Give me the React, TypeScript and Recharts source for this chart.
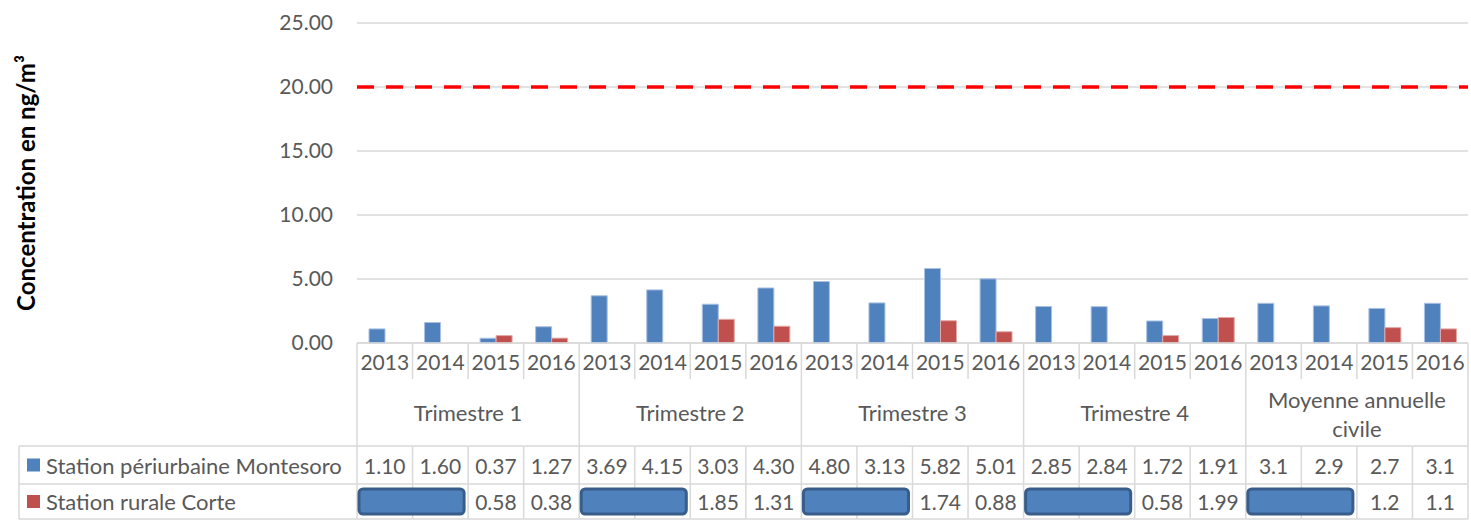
import React from 'react';
import { BarChart, Bar, XAxis, YAxis, CartesianGrid, ReferenceLine } from 'recharts';

// categories
const groups = ['Trimestre 1', 'Trimestre 2', 'Trimestre 3', 'Trimestre 4', 'Moyenne annuelle civile'];
const years = ['2013', '2014', '2015', '2016'];
const decimals = [2, 2, 2, 2, 1];

// series values (null = pas de mesure)
const montesoro = [1.10, 1.60, 0.37, 1.27, 3.69, 4.15, 3.03, 4.30, 4.80, 3.13, 5.82, 5.01, 2.85, 2.84, 1.72, 1.91, 3.1, 2.9, 2.7, 3.1];
const corte = [null, null, 0.58, 0.38, null, null, 1.85, 1.31, null, null, 1.74, 0.88, null, null, 0.58, 1.99, null, null, 1.2, 1.1];

const seriesNames = ['Station périurbaine Montesoro', 'Station rurale Corte'];
const yTicks = [0, 5, 10, 15, 20, 25];
const limitValue = 20;

const data = montesoro.map((v, i) => ({
  key: `${groups[Math.floor(i / 4)]}-${years[i % 4]}`,
  year: years[i % 4],
  group: Math.floor(i / 4),
  montesoro: v,
  corte: corte[i],
}));

const W = 1471;
const H = 520;
const margin = { top: 23, right: 3, left: 0, bottom: 0 };
const Y_W = 357;
const X_H = 177;
const BLUE = '#4F81BD';
const RED = '#C0504D';
const GRID = '#D9D9D9';
const TXT = '#595959';
const FONT = 'Lato, "Open Sans", sans-serif';
const FS_NUM = 21;
const FS_TXT = 22;

const band = (W - margin.left - margin.right - Y_W) / data.length;

function fmt(v: number | null, g: number) {
  return v == null ? '' : v.toFixed(decimals[g]);
}

function TableTick(props: any) {
  const { x, y, payload } = props;
  const i: number = payload.index;
  const d = data[i];
  const L = x - band / 2;
  const R = x + band / 2;
  const T = y;
  const r1 = T + 36;
  const r2 = T + 103;
  const r3 = T + 141;
  const B = T + 176;
  const lastInGroup = i % 4 === 3 || i === data.length - 1;
  const ln = { stroke: GRID, strokeWidth: 1.5 };
  const txt = { fill: TXT, fontSize: FS_NUM, fontFamily: FONT, textAnchor: 'middle' as const, dominantBaseline: 'central' as const };
  const groupLabel = groups[d.group];
  const twoLines = groupLabel.startsWith('Moyenne');

  return (
    <g>
      {i === 0 && (
        <g>
          <line x1={L} y1={T} x2={L} y2={B} {...ln} />
          <line x1={19} y1={r2} x2={L} y2={r2} {...ln} />
          <line x1={19} y1={r3} x2={L} y2={r3} {...ln} />
          <line x1={19} y1={B} x2={L} y2={B} {...ln} />
          <line x1={19} y1={r2} x2={19} y2={B} {...ln} />
          <rect x={27} y={(r2 + r3) / 2 - 6.5} width={13} height={13} fill={BLUE} />
          <text x={46} y={(r2 + r3) / 2} {...txt} fontSize={FS_TXT} textAnchor="start">{seriesNames[0]}</text>
          <rect x={27} y={(r3 + B) / 2 - 6.5} width={13} height={13} fill={RED} />
          <text x={46} y={(r3 + B) / 2} {...txt} fontSize={FS_TXT} textAnchor="start">{seriesNames[1]}</text>
        </g>
      )}
      {lastInGroup ? (
        <line x1={R} y1={T} x2={R} y2={B} {...ln} />
      ) : (
        <g>
          <line x1={R} y1={T} x2={R} y2={r1} {...ln} />
          <line x1={R} y1={r2} x2={R} y2={B} {...ln} />
        </g>
      )}
      <line x1={L} y1={r2} x2={R} y2={r2} {...ln} />
      <line x1={L} y1={r3} x2={R} y2={r3} {...ln} />
      <line x1={L} y1={B} x2={R} y2={B} {...ln} />
      <text x={x} y={T + 18} {...txt}>{d.year}</text>
      {i % 4 === 1 && (
        twoLines ? (
          <text x={R} y={(r1 + r2) / 2} {...txt} fontSize={FS_TXT}>
            <tspan x={R} dy={-14}>Moyenne annuelle</tspan>
            <tspan x={R} dy={29}>civile</tspan>
          </text>
        ) : (
          <text x={R} y={(r1 + r2) / 2} {...txt} fontSize={FS_TXT}>{groupLabel}</text>
        )
      )}
      <text x={x} y={(r2 + r3) / 2} {...txt}>{fmt(d.montesoro, d.group)}</text>
      <text x={x} y={(r3 + B) / 2} {...txt}>{fmt(d.corte, d.group)}</text>
      {i % 4 === 0 && d.corte == null && data[i + 1]?.corte == null && (
        <rect x={L + 2} y={r3 + 5} width={2 * band - 6} height={B - r3 - 10} rx={4} fill={BLUE} stroke="#385D8A" strokeWidth={3} />
      )}
    </g>
  );
}

export default function App() {
  return (
    <div style={{ position: 'absolute', left: 0, top: 0, width: W, height: H, background: '#fff' }}>
      <BarChart width={W} height={H} data={data} margin={margin} barGap={0} barSize={16}>
        <CartesianGrid vertical={false} stroke={GRID} strokeWidth={1.5} />
        <XAxis
          dataKey="key"
          interval={0}
          height={X_H}
          tickSize={0}
          tickMargin={0}
          tickLine={false}
          axisLine={{ stroke: GRID, strokeWidth: 1.5 }}
          tick={(p: any) => <TableTick {...p} />}
        />
        <YAxis
          width={Y_W}
          domain={[0, 25]}
          ticks={yTicks}
          tickFormatter={(v: number) => v.toFixed(2)}
          tickSize={0}
          tickMargin={24}
          tickLine={false}
          axisLine={false}
          tick={{ fill: TXT, fontSize: FS_NUM, fontFamily: FONT }}
          label={{
            content: (p: any) => {
              const vb = p.viewBox || { y: 23, height: 320 };
              const cy = vb.y + vb.height / 2;
              return (
                <text x={25} y={cy} transform={`rotate(-90 25 ${cy})`} textAnchor="middle" dominantBaseline="central"
                  fill="#000" fontSize={24} fontWeight="bold" fontFamily={FONT}>
                  Concentration en ng/m³
                </text>
              );
            },
          }}
        />
        <Bar dataKey="montesoro" name={seriesNames[0]} fill={BLUE} stroke="#A9C1E2" strokeWidth={1} isAnimationActive={false} />
        <Bar dataKey="corte" name={seriesNames[1]} fill={RED} stroke="#E0A9A8" strokeWidth={1} isAnimationActive={false} />
        <ReferenceLine y={limitValue} stroke="#FF0000" strokeWidth={3.5} strokeDasharray="17 12" />
      </BarChart>
    </div>
  );
}
